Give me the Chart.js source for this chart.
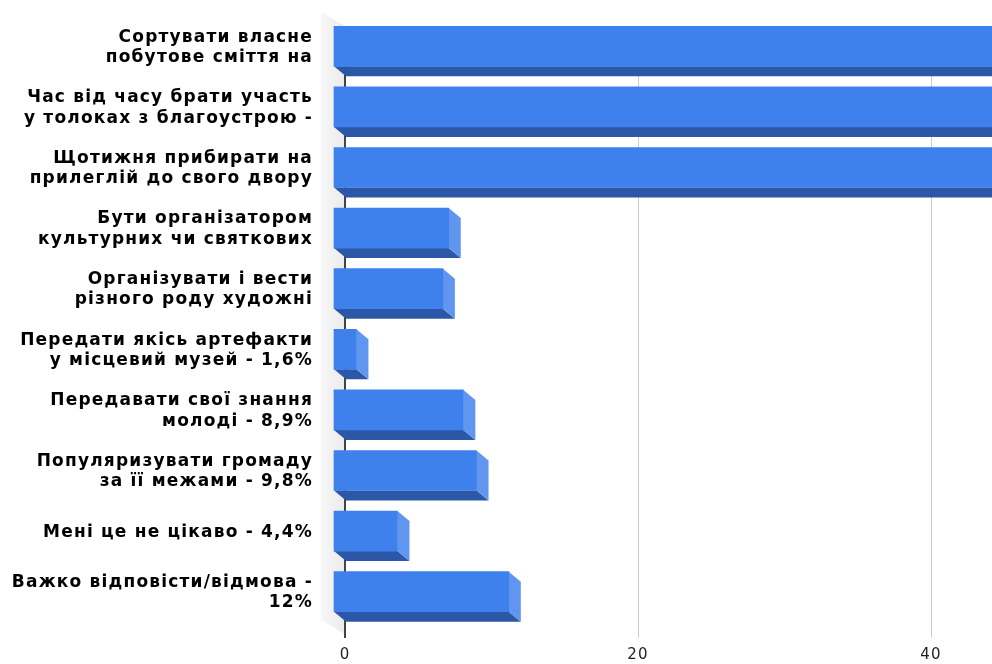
<!DOCTYPE html>
<html>
<head>
<meta charset="utf-8">
<script src="https://cdn.jsdelivr.net/npm/chart.js@4"></script>
<style>
  html, body { margin: 0; padding: 0; background: #fff; overflow: hidden; }
  #wrap { position: absolute; left: 0; top: 0; width: 1240px; height: 664px; }
</style>
</head>
<body>
<div id="wrap"><canvas id="chart"></canvas></div>
<script>
// categories (two-line labels as in the picture)
const categories = [
  ["Сортувати власне", "побутове сміття на"],
  ["Час від часу брати участь", "у толоках з благоустрою -"],
  ["Щотижня прибирати на", "прилеглій до свого двору"],
  ["Бути організатором", "культурних чи святкових"],
  ["Організувати і вести", "різного роду художні"],
  ["Передати якісь артефакти", "у місцевий музей - 1,6%"],
  ["Передавати свої знання", "молоді - 8,9%"],
  ["Популяризувати громаду", "за її межами - 9,8%"],
  "Мені це не цікаво - 4,4%",
  ["Важко відповісти/відмова -", "12%"]
];
// percent values (first three run off the right edge)
const values = [52.6, 48.3, 46.1, 7.9, 7.5, 1.6, 8.9, 9.8, 4.4, 12];
const xTicks = [0, 20, 40, 60];

const DX = 12, DY = 10; // 3d depth offset

// draws the side + bottom faces, then shifts the native bar forward
const bars3d = {
  id: 'bars3d',
  beforeDraw(chart) {
    const ctx = chart.ctx;
    const a = chart.chartArea;
    ctx.letterSpacing = '1.2px'; // the original text is drawn quite wide
    ctx.save();
    const g = ctx.createLinearGradient(a.left - 24, 0, a.left, 0);
    g.addColorStop(0, '#f7f7f7');
    g.addColorStop(1, '#ebebeb');
    ctx.fillStyle = g;
    ctx.beginPath();
    ctx.moveTo(a.left - 24, a.top - 14);
    ctx.lineTo(a.left, a.top);
    ctx.lineTo(a.left, a.bottom + 2);
    ctx.lineTo(a.left - 24, a.bottom - 12);
    ctx.closePath();
    ctx.fill();
    ctx.restore();
  },
  beforeDatasetsDraw(chart) {
    const ctx = chart.ctx;
    const meta = chart.getDatasetMeta(0);
    ctx.save();
    meta.data.forEach(bar => {
      const p = bar.getProps(['x', 'y', 'base', 'height'], true);
      const L = p.base, R = p.x, T = p.y - p.height / 2, B = p.y + p.height / 2;
      // bottom face
      ctx.fillStyle = '#2c56a6';
      ctx.beginPath();
      ctx.moveTo(L - DX, B - DY);
      ctx.lineTo(R - DX, B - DY);
      ctx.lineTo(R, B);
      ctx.lineTo(L, B);
      ctx.closePath();
      ctx.fill();
      // right face
      ctx.fillStyle = '#6096ef';
      ctx.beginPath();
      ctx.moveTo(R - DX, T - DY);
      ctx.lineTo(R, T);
      ctx.lineTo(R, B);
      ctx.lineTo(R - DX, B - DY);
      ctx.closePath();
      ctx.fill();
    });
    ctx.restore();
    ctx.save();
    ctx.translate(-DX, -DY);
  },
  afterDatasetsDraw(chart) {
    chart.ctx.restore();
  }
};

const noPad = s => {
  s.paddingTop = 0; s.paddingBottom = 0;
  s.paddingLeft = 0; s.paddingRight = 0;
};

new Chart(document.getElementById('chart'), {
  type: 'bar',
  data: {
    labels: categories,
    datasets: [{
      data: values,
      backgroundColor: '#3e81ed',
      borderWidth: 0,
      barThickness: 40,
      clip: false
    }]
  },
  options: {
    indexAxis: 'y',
    responsive: true,
    maintainAspectRatio: false,
    animation: false,
    layout: { padding: { top: 26, right: 16, bottom: 0, left: 0 } },
    plugins: {
      legend: { display: false },
      tooltip: { enabled: false }
    },
    scales: {
      x: {
        min: 0,
        max: 60,
        afterBuildTicks: s => { s.ticks = xTicks.map(v => ({ value: v })); },
        afterFit: s => { s.height = 32; noPad(s); },
        border: { display: false },
        grid: {
          color: c => (c.tick && c.tick.value === 0) ? '#444' : '#cccccc',
          lineWidth: c => (c.tick && c.tick.value === 0) ? 2 : 1,
          tickLength: 6
        },
        ticks: {
          padding: 8,
          color: '#222',
          font: { family: 'DejaVu Sans', size: 15 }
        }
      },
      y: {
        afterFit: s => { s.width = 345; noPad(s); },
        border: { display: false },
        grid: { display: false, drawTicks: false },
        ticks: {
          padding: 32,
          labelOffset: -9,
          color: '#000',
          font: { family: 'DejaVu Sans', size: 17, weight: 'bold', lineHeight: 1.2 }
        }
      }
    }
  },
  plugins: [bars3d]
});
</script>
</body>
</html>
